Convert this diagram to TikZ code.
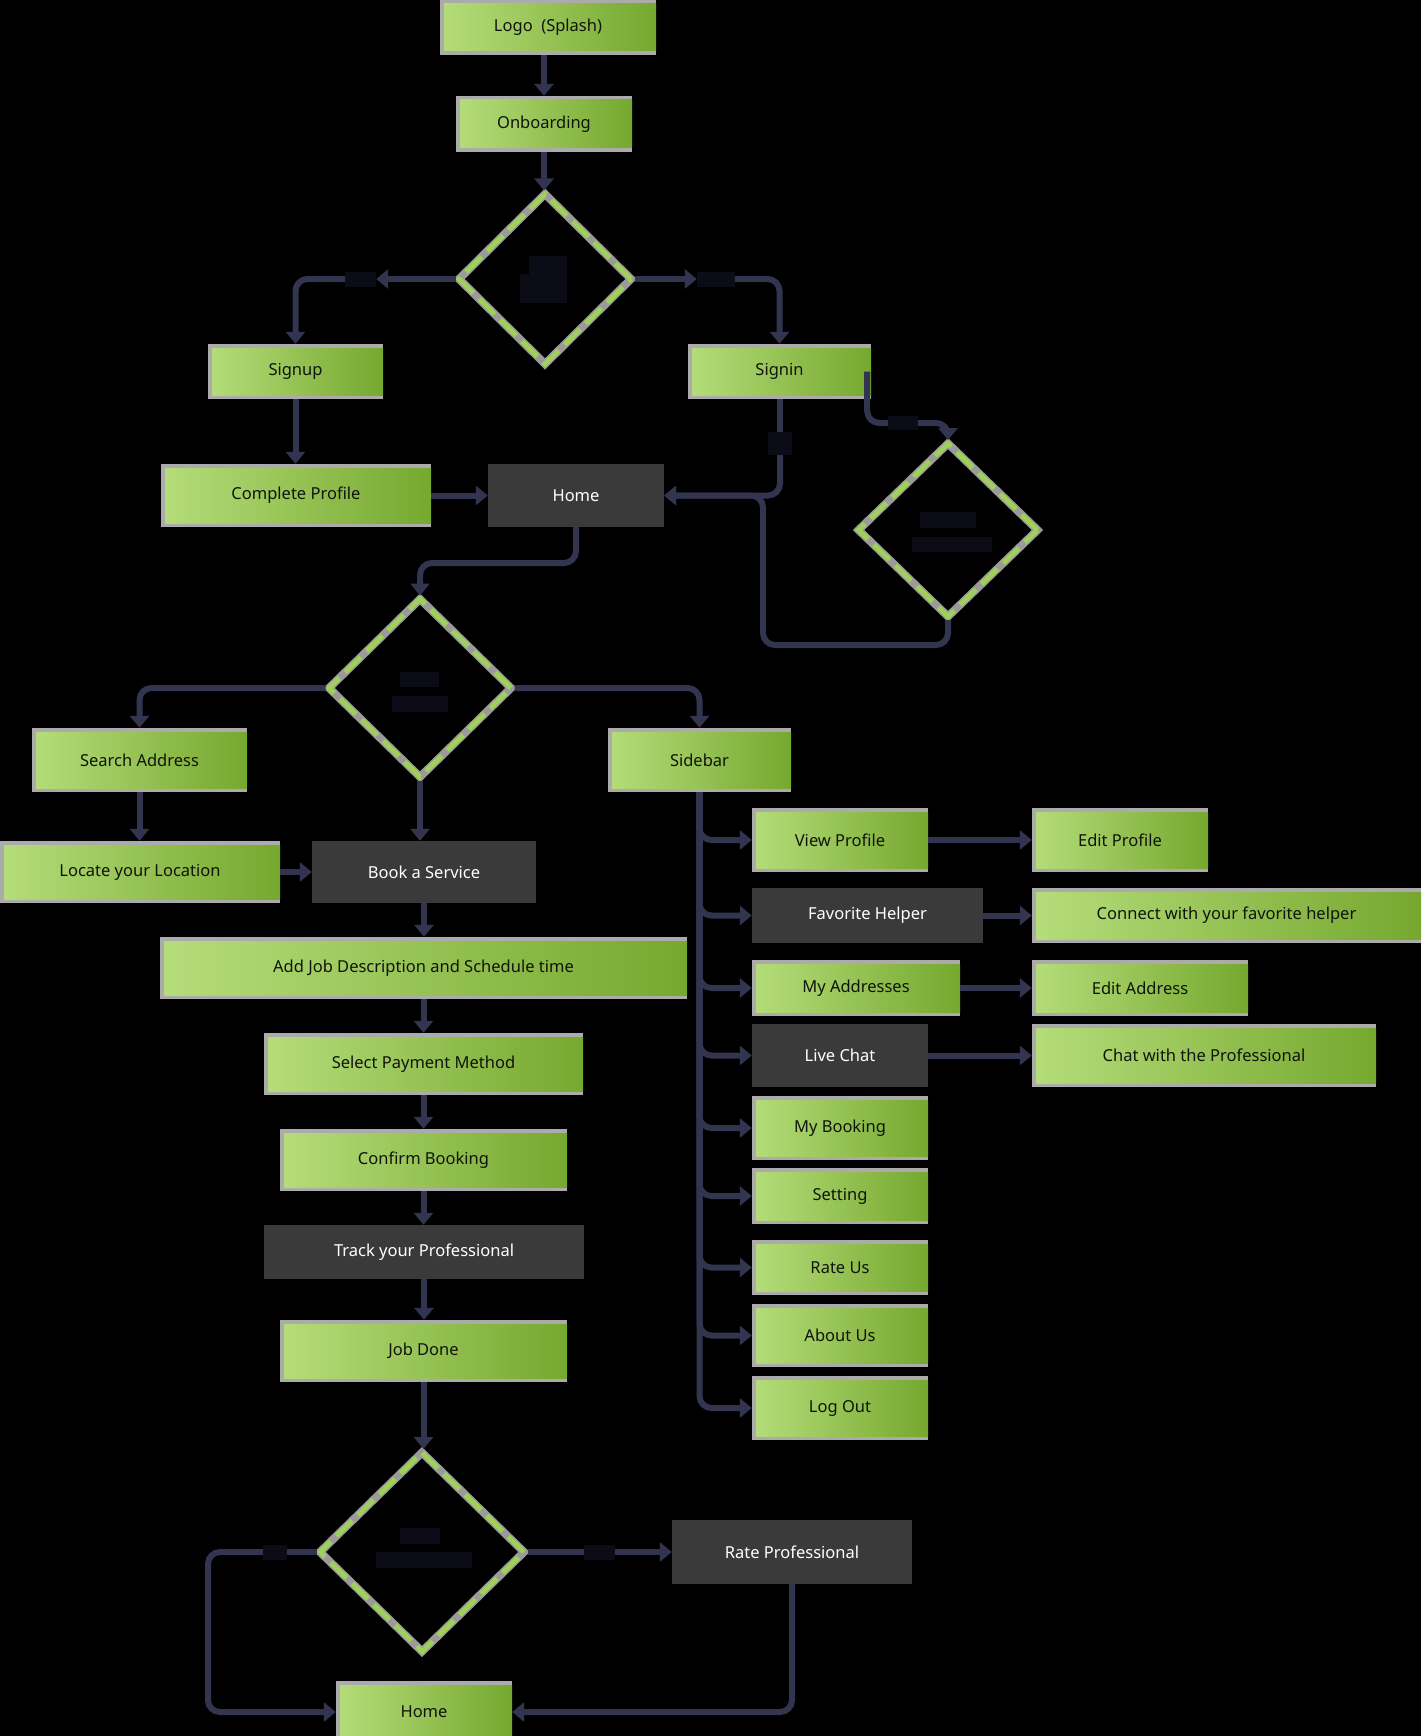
\documentclass[tikz,border=0pt]{standalone}
\usepackage{fontspec}
\setmainfont{Noto Sans}
\usetikzlibrary{arrows.meta,shapes.geometric}
\definecolor{lineC}{HTML}{33344F}
\definecolor{darkbox}{HTML}{3A3A3A}
\definecolor{boxgray}{HTML}{ABABAB}
\definecolor{gL}{HTML}{B5DD7A}
\definecolor{gR}{HTML}{76A82F}
\definecolor{dgreen}{HTML}{9FD05A}
\definecolor{halo}{HTML}{9A9A9A}
\definecolor{lblC}{HTML}{0C0C17}
\definecolor{txtdark}{HTML}{10140C}
\newcommand\labfont{\fontsize{16.5}{19}\selectfont}
\tikzset{
  gbox/.style={rectangle, inner sep=0pt, fill=boxgray, text=txtdark, font=\labfont,
    path picture={\shade[left color=gL, right color=gR]
      ([xshift=4pt,yshift=4pt]path picture bounding box.south west) rectangle
      ([yshift=-4pt]path picture bounding box.north east);}},
  dbox/.style={rectangle, inner sep=0pt, fill=darkbox, text=white, font=\labfont},
  lbl/.style={rectangle, inner sep=0pt, fill=lblC},
  dec/.style={diamond, inner sep=0pt, draw=dgreen, line width=5pt,
    dash pattern=on 22pt off 8pt,
    preaction={draw=halo, line width=8pt, solid}},
  wire/.style={draw=lineC, line width=6pt, rounded corners=12pt},
  conn/.style={wire, -{Triangle[length=12pt,width=19pt]}},
}
\begin{document}
\begin{tikzpicture}[x=1pt,y=-1pt]
\useasboundingbox (0,0) rectangle (1421,1736);
\fill[black] (0,0) rectangle (1421,1736);

% ---- top section ----
\node[gbox, minimum width=216pt, minimum height=55pt] (logo) at (548,27.5) {Logo\ \ (Splash)};
\node[gbox, minimum width=176pt, minimum height=56pt] (onb) at (544,124) {Onboarding};
\node[dec, minimum width=174pt, minimum height=172pt] (d1) at (545,279) {};
\node[lbl, minimum width=38pt, minimum height=17pt] (t1a) at (548,265) {};
\node[lbl, minimum width=47pt, minimum height=29pt] (t1b) at (543.5,288.5) {};
\node[gbox, minimum width=175pt, minimum height=55pt] (signup) at (295.5,371.5) {Signup};
\node[gbox, minimum width=183pt, minimum height=55pt] (signin) at (779.5,371.5) {Signin};
\node[gbox, minimum width=270pt, minimum height=63pt] (cprof) at (296,495.5) {Complete Profile};
\node[dbox, minimum width=176pt, minimum height=63pt] (home1) at (576,495.5) {Home};
\node[dec, minimum width=181pt, minimum height=175pt] (d2) at (948,530) {};
\node[lbl, minimum width=56pt, minimum height=16pt] (t2a) at (948,520) {};
\node[lbl, minimum width=80pt, minimum height=15pt] (t2b) at (952,544.5) {};

\node[lbl, minimum width=31pt, minimum height=15pt] (l1) at (360.5,279) {};
\node[lbl, minimum width=38pt, minimum height=15pt] (l2) at (716,279) {};
\node[lbl, minimum width=24pt, minimum height=23pt] (l3) at (780,443.5) {};
\node[lbl, minimum width=30pt, minimum height=14pt] (l4) at (903,423) {};

% ---- middle section ----
\node[dec, minimum width=184pt, minimum height=180pt] (d3) at (420,688) {};
\node[lbl, minimum width=39pt, minimum height=15pt] (t3a) at (419.5,679.5) {};
\node[lbl, minimum width=56pt, minimum height=16pt] (t3b) at (420,704) {};
\node[gbox, minimum width=215pt, minimum height=64pt] (search) at (139.5,760) {Search Address};
\node[gbox, minimum width=183pt, minimum height=64pt] (sidebar) at (699.5,760) {Sidebar};
\node[gbox, minimum width=280pt, minimum height=62pt] (locate) at (140,872) {Locate your Location};
\node[dbox, minimum width=224pt, minimum height=62pt] (book) at (424,872) {Book a Service};
\node[gbox, minimum width=527pt, minimum height=62pt] (addjob) at (423.5,968) {Add Job Description and Schedule time};
\node[gbox, minimum width=319pt, minimum height=62pt] (select) at (423.5,1064) {Select Payment Method};
\node[gbox, minimum width=287pt, minimum height=62pt] (confirm) at (423.5,1160) {Confirm Booking};
\node[dbox, minimum width=320pt, minimum height=54pt] (track) at (424,1252) {Track your Professional};
\node[gbox, minimum width=287pt, minimum height=62pt] (jobdone) at (423.5,1351) {Job Done};

% ---- sidebar items ----
\node[gbox, minimum width=176pt, minimum height=64pt] (vp) at (840,840) {View Profile};
\node[dbox, minimum width=231pt, minimum height=55pt] (fh) at (867.5,915.5) {Favorite Helper};
\node[gbox, minimum width=208pt, minimum height=56pt] (ma) at (856,988) {My Addresses};
\node[dbox, minimum width=176pt, minimum height=63pt] (lc) at (840,1055.5) {Live Chat};
\node[gbox, minimum width=176pt, minimum height=64pt] (mb) at (840,1128) {My Booking};
\node[gbox, minimum width=176pt, minimum height=56pt] (st) at (840,1196) {Setting};
\node[gbox, minimum width=176pt, minimum height=55pt] (ru) at (840,1267.5) {Rate Us};
\node[gbox, minimum width=176pt, minimum height=63pt] (au) at (840,1335.5) {About Us};
\node[gbox, minimum width=176pt, minimum height=64pt] (lo) at (840,1408) {Log Out};

\node[gbox, minimum width=176pt, minimum height=64pt] (ep) at (1120,840) {Edit Profile};
\node[gbox, minimum width=389pt, minimum height=55pt] (cf) at (1226.5,915.5) {Connect with your favorite helper};
\node[gbox, minimum width=216pt, minimum height=56pt] (ea) at (1140,988) {Edit Address};
\node[gbox, minimum width=344pt, minimum height=63pt] (cp) at (1204,1055.5) {Chat with the Professional};

% ---- bottom section ----
\node[dec, minimum width=206pt, minimum height=201pt] (d4) at (422,1552) {};
\node[lbl, minimum width=40pt, minimum height=16pt] (t4a) at (420,1536) {};
\node[lbl, minimum width=96pt, minimum height=16pt] (t4b) at (424,1560) {};
\node[lbl, minimum width=31pt, minimum height=15pt] (l5) at (599.5,1552) {};
\node[lbl, minimum width=24pt, minimum height=15pt] (l6) at (275,1552) {};
\node[dbox, minimum width=240pt, minimum height=64pt] (rate) at (792,1552) {Rate Professional};
\node[gbox, minimum width=176pt, minimum height=62pt] (home2) at (424,1712) {Home};

\coordinate (loopc) at (763,645);
\coordinate (hj) at (576,563);
\coordinate (lcorner) at (208,1552);

% ---- connectors ----
\draw[conn] (onb.north |- logo.south) -- (onb.north);
\draw[conn] (onb.south) -- (onb.south |- d1.north);
\draw[conn] (d1.west) -- (l1.east);
\draw[conn] (l1.west) -| (signup.north);
\draw[conn] (d1.east) -- (l2.west);
\draw[conn] (l2.east) -| (signin.north);
\draw[conn] (signup.south) -- (signup.south |- cprof.north);
\draw[conn] (cprof.east) -- (home1.west);
\draw[wire] (l3.north |- signin.south) -- (l3.north);
\draw[conn] (l3.south) |- (home1.east);
\draw[wire] ([xshift=-4pt]signin.east) |- (l4.west);
\draw[conn] (l4.east) -| (d2.north);
\draw[conn] (d2.south) |- (loopc) |- (home1.east);
\draw[conn] (home1.south) -- (hj) -| (d3.north);
\draw[conn] (d3.west) -| (search.north);
\draw[conn] (d3.east) -| (sidebar.north);
\draw[conn] (d3.south) -- (d3.south |- book.north);
\draw[conn] (search.south) -- (search.south |- locate.north);
\draw[conn] (locate.east) -- (book.west);
\draw[conn] (book.south) -- (book.south |- addjob.north);
\draw[conn] (addjob.south) -- (addjob.south |- select.north);
\draw[conn] (select.south) -- (select.south |- confirm.north);
\draw[conn] (confirm.south) -- (confirm.south |- track.north);
\draw[conn] (track.south) -- (track.south |- jobdone.north);
\draw[conn] (jobdone.south) -- (jobdone.south |- d4.north);
\foreach \c in {vp,fh,ma,lc,mb,st,ru,au,lo}
  \draw[conn] (sidebar.south) |- (\c.west);
\draw[conn] (vp.east) -- (ep.west);
\draw[conn] (fh.east) -- (cf.west);
\draw[conn] (ma.east) -- (ea.west);
\draw[conn] (lc.east) -- (cp.west);
\draw[wire] (d4.east) -- (l5.west);
\draw[conn] (l5.east) -- (rate.west);
\draw[wire] (d4.west) -- (l6.east);
\draw[conn] (l6.west) -- (lcorner) |- (home2.west);
\draw[conn] (rate.south) |- (home2.east);
\end{tikzpicture}
\end{document}
